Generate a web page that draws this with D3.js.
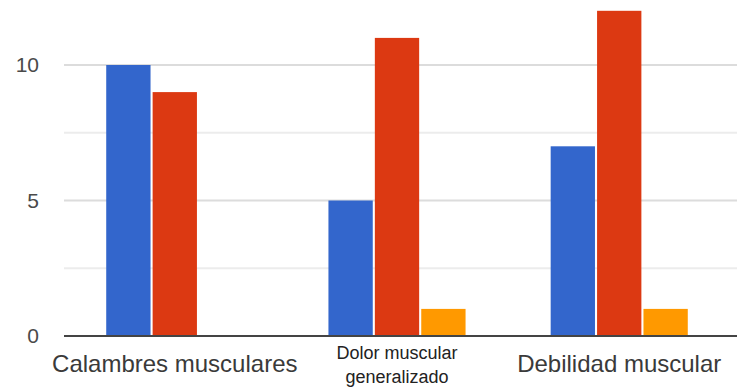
<!DOCTYPE html>
<html>
<head>
<meta charset="utf-8">
<script src="https://cdn.jsdelivr.net/npm/d3@7"></script>
<style>
  html, body { margin: 0; padding: 0; background: #fff; }
  svg { display: block; }
</style>
</head>
<body>
<svg id="chart" width="737" height="389"></svg>
<script>
// Symptom categories (second label is wrapped over two lines)
const categories = ["Calambres musculares", "Dolor muscular generalizado", "Debilidad muscular"];
const categoryLines = [["Calambres musculares"], ["Dolor muscular", "generalizado"], ["Debilidad muscular"]];

// Three series per category
const seriesA = [10, 5, 7];
const seriesB = [9, 11, 12];
const seriesC = [0, 1, 1];
const seriesColors = ["#3366cc", "#dc3912", "#ff9900"];

const yTicks = [0, 5, 10];
const yGrid = [0, 2.5, 5, 7.5, 10];

const svg = d3.select("#chart");
const margin = { left: 64, right: 7, top: 0, bottom: 53 };
const W = 737, H = 389;

const x = d3.scaleBand()
  .domain(categories)
  .range([margin.left, W - margin.right])
  .paddingInner(0.383)
  .paddingOuter(0.19);

const series = [seriesA, seriesB, seriesC];
const x1 = d3.scaleBand()
  .domain(d3.range(series.length))
  .range([0, x.bandwidth()])
  .paddingInner(0.045);

const y = d3.scaleLinear()
  .domain([0, 10])
  .range([336, 65]);

// gridlines
svg.append("g")
  .selectAll("line")
  .data(yGrid.filter(d => d > 0))
  .join("line")
  .attr("x1", margin.left)
  .attr("x2", W)
  .attr("y1", d => y(d))
  .attr("y2", d => y(d))
  .attr("stroke", d => d % 5 === 0 ? "#dcdcdc" : "#ececec")
  .attr("stroke-width", 2);

// bars
const groups = svg.append("g")
  .selectAll("g")
  .data(categories)
  .join("g")
  .attr("transform", c => `translate(${x(c)},0)`);

groups.selectAll("rect")
  .data((c, i) => series.map((s, k) => ({ k, v: s[i] })))
  .join("rect")
  .attr("x", d => x1(d.k))
  .attr("width", x1.bandwidth())
  .attr("y", d => y(d.v))
  .attr("height", d => y(0) - y(d.v))
  .attr("fill", d => seriesColors[d.k]);

// baseline
svg.append("line")
  .attr("x1", margin.left)
  .attr("x2", W)
  .attr("y1", y(0))
  .attr("y2", y(0))
  .attr("stroke", "#444")
  .attr("stroke-width", 2);

// y-axis tick labels
const yAxis = d3.axisLeft(y).tickValues(yTicks).tickSize(0).tickPadding(0);
const ya = svg.append("g")
  .attr("transform", "translate(39,0)")
  .call(yAxis);
ya.select(".domain").remove();
ya.selectAll("text")
  .attr("font-family", "Arial, 'Liberation Sans', sans-serif")
  .attr("font-size", 21)
  .attr("fill", "#4a4a4a");

// x-axis category labels
const xl = svg.append("g");
categories.forEach((c, i) => {
  const lines = categoryLines[i];
  const cx = x(c) + x.bandwidth() / 2;
  if (lines.length === 1) {
    xl.append("text")
      .attr("x", cx)
      .attr("y", 372)
      .attr("text-anchor", "middle")
      .attr("font-family", "Arial, 'Liberation Sans', sans-serif")
      .attr("font-size", 24)
      .attr("fill", "#3a3a3a")
      .text(lines[0]);
  } else {
    lines.forEach((t, j) => {
      xl.append("text")
        .attr("x", cx)
        .attr("y", 359 + j * 24)
        .attr("text-anchor", "middle")
        .attr("font-family", "'Liberation Sans Narrow', 'Arial Narrow', sans-serif")
        .attr("font-size", 18)
        .attr("fill", "#222")
        .text(t);
    });
  }
});
</script>
</body>
</html>
